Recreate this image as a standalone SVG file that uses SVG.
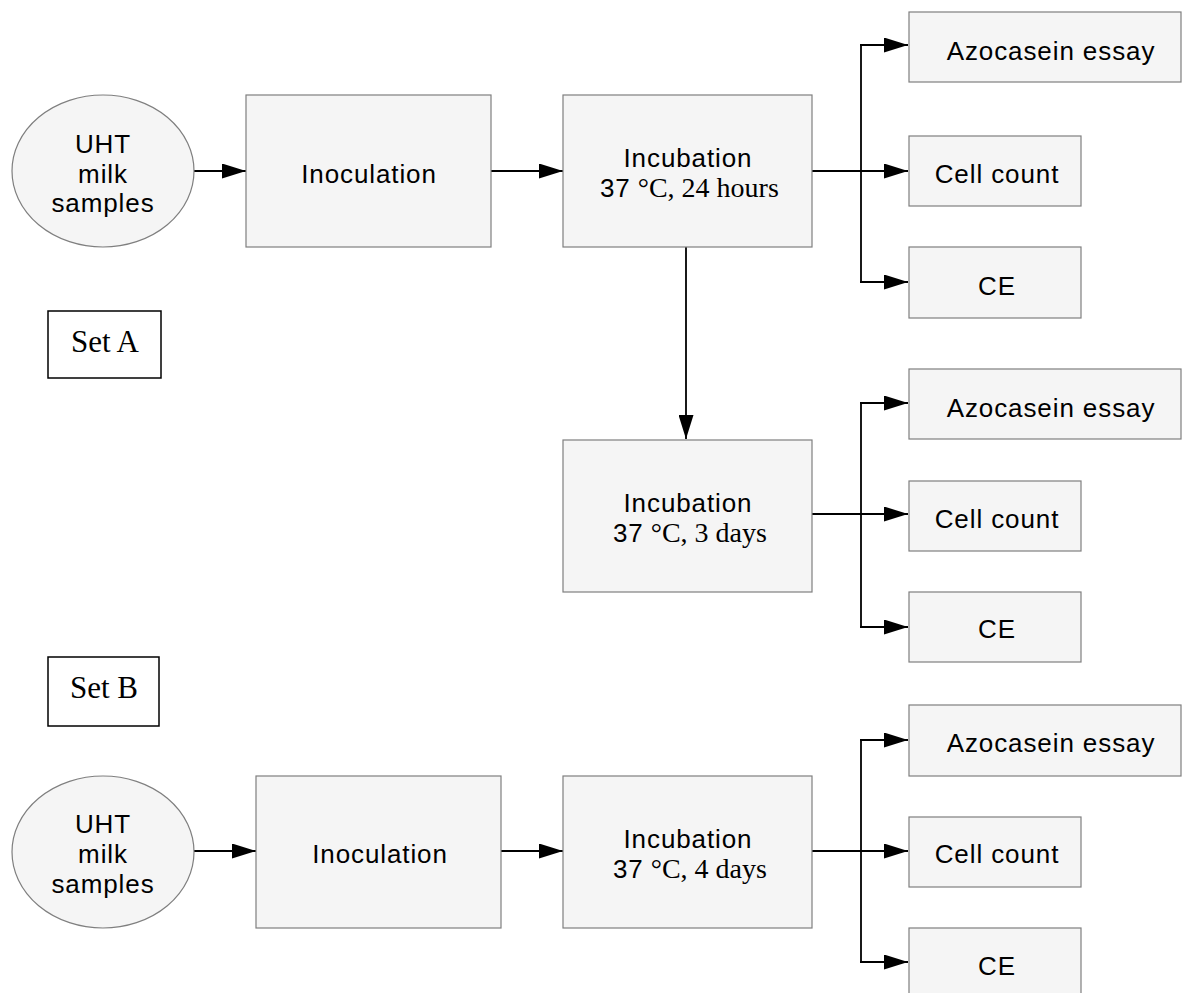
<svg xmlns="http://www.w3.org/2000/svg" width="1182" height="993" viewBox="0 0 1182 993">
<defs>
<marker id="ah" markerUnits="userSpaceOnUse" markerWidth="24" markerHeight="15" refX="24" refY="7.5" orient="auto">
<path d="M0,0 L24,7.5 L0,15 z" fill="#000"/>
</marker>
<style>
.box{fill:#f5f5f5;stroke:#7f7f7f;stroke-width:1.2}
.set{fill:#fff;stroke:#000;stroke-width:1.5}
.s{font-family:"Liberation Sans",Arial,sans-serif;font-size:26px;letter-spacing:0.9px;fill:#000;text-anchor:middle}
.t{font-family:"Liberation Sans",Arial,sans-serif;font-size:26px;letter-spacing:0.9px;fill:#000}
.r{font-family:"Liberation Serif","Times New Roman",serif;font-size:28px;fill:#000}
.st{font-family:"Liberation Serif","Times New Roman",serif;font-size:31px;fill:#000;text-anchor:middle}
.c{fill:none;stroke:#000;stroke-width:1.8}
</style>
</defs>
<rect width="1182" height="993" fill="#fff"/>

<g id="connectors">
<line class="c" x1="194" y1="171" x2="246" y2="171" marker-end="url(#ah)"/>
<line class="c" x1="491" y1="171" x2="563" y2="171" marker-end="url(#ah)"/>
<line class="c" x1="812" y1="171" x2="908" y2="171" marker-end="url(#ah)"/>
<path class="c" d="M861,45 V282"/>
<line class="c" x1="860" y1="45" x2="908" y2="45" marker-end="url(#ah)"/>
<line class="c" x1="860" y1="282" x2="908" y2="282" marker-end="url(#ah)"/>
<line class="c" x1="686" y1="247" x2="686" y2="439" marker-end="url(#ah)"/>

<line class="c" x1="812" y1="514" x2="908" y2="514" marker-end="url(#ah)"/>
<path class="c" d="M861,403 V627"/>
<line class="c" x1="860" y1="403" x2="908" y2="403" marker-end="url(#ah)"/>
<line class="c" x1="860" y1="627" x2="908" y2="627" marker-end="url(#ah)"/>

<line class="c" x1="194" y1="851" x2="256" y2="851" marker-end="url(#ah)"/>
<line class="c" x1="501" y1="851" x2="563" y2="851" marker-end="url(#ah)"/>
<line class="c" x1="812" y1="851" x2="908" y2="851" marker-end="url(#ah)"/>
<path class="c" d="M861,740 V962"/>
<line class="c" x1="860" y1="740" x2="908" y2="740" marker-end="url(#ah)"/>
<line class="c" x1="860" y1="962" x2="908" y2="962" marker-end="url(#ah)"/>
</g>

<g id="uht-a">
<ellipse class="box" cx="103" cy="171" rx="91" ry="76"/>
<text class="s" x="103" y="153">UHT</text>
<text class="s" x="103" y="183">milk</text>
<text class="s" x="103" y="212">samples</text>
</g>
<g id="inoc-a">
<rect class="box" x="246" y="95" width="245" height="152"/>
<text class="s" x="369" y="183">Inoculation</text>
</g>
<g id="incub-24h">
<rect class="box" x="563" y="95" width="249" height="152"/>
<text class="s" x="688" y="167">Incubation</text>
<text x="600" y="197"><tspan class="t">37</tspan><tspan class="r"> °C, 24 hours</tspan></text>
</g>
<g id="azo-1">
<rect class="box" x="909" y="12" width="272" height="70"/>
<text class="s" x="1051" y="60">Azocasein essay</text>
</g>
<g id="cell-1">
<rect class="box" x="909" y="136" width="172" height="70"/>
<text class="s" x="997" y="183">Cell count</text>
</g>
<g id="ce-1">
<rect class="box" x="909" y="247" width="172" height="71"/>
<text class="s" x="997" y="295">CE</text>
</g>

<g id="set-a">
<rect class="set" x="48" y="311" width="113" height="67"/>
<text class="st" x="105" y="352">Set A</text>
</g>

<g id="incub-3d">
<rect class="box" x="563" y="440" width="249" height="152"/>
<text class="s" x="688" y="512">Incubation</text>
<text x="613" y="542"><tspan class="t">37</tspan><tspan class="r"> °C, 3 days</tspan></text>
</g>
<g id="azo-2">
<rect class="box" x="909" y="369" width="272" height="70"/>
<text class="s" x="1051" y="417">Azocasein essay</text>
</g>
<g id="cell-2">
<rect class="box" x="909" y="481" width="172" height="70"/>
<text class="s" x="997" y="528">Cell count</text>
</g>
<g id="ce-2">
<rect class="box" x="909" y="592" width="172" height="70"/>
<text class="s" x="997" y="638">CE</text>
</g>

<g id="set-b">
<rect class="set" x="48" y="657" width="111" height="69"/>
<text class="st" x="104" y="698">Set B</text>
</g>

<g id="uht-b">
<ellipse class="box" cx="103" cy="852" rx="91" ry="76"/>
<text class="s" x="103" y="833">UHT</text>
<text class="s" x="103" y="863">milk</text>
<text class="s" x="103" y="893">samples</text>
</g>
<g id="inoc-b">
<rect class="box" x="256" y="776" width="245" height="152"/>
<text class="s" x="380" y="863">Inoculation</text>
</g>
<g id="incub-4d">
<rect class="box" x="563" y="776" width="249" height="152"/>
<text class="s" x="688" y="848">Incubation</text>
<text x="613" y="878"><tspan class="t">37</tspan><tspan class="r"> °C, 4 days</tspan></text>
</g>
<g id="azo-3">
<rect class="box" x="909" y="705" width="272" height="71"/>
<text class="s" x="1051" y="752">Azocasein essay</text>
</g>
<g id="cell-3">
<rect class="box" x="909" y="817" width="172" height="70"/>
<text class="s" x="997" y="863">Cell count</text>
</g>
<g id="ce-3">
<rect class="box" x="909" y="928" width="172" height="70"/>
<text class="s" x="997" y="975">CE</text>
</g>
</svg>
